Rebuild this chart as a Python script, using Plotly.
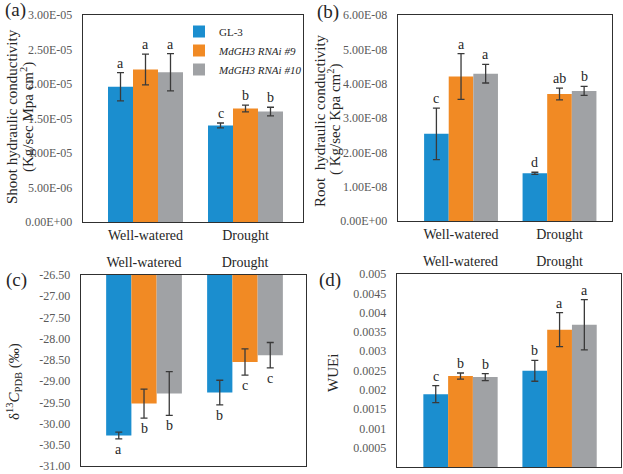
import plotly.graph_objects as go

# ---------------- data ----------------
categories = ["Well-watered", "Drought"]
series_names = ["GL-3", "<i>MdGH3 RNAi #9</i>", "<i>MdGH3 RNAi #10</i>"]
colors = ["#1B8ECF", "#F18A24", "#A0A2A5"]

# (a) shoot hydraulic conductivity
shoot_vals = [[1.96e-05, 1.40e-05], [2.21e-05, 1.645e-05], [2.17e-05, 1.60e-05]]
shoot_err = [[0.205e-05, 0.035e-05], [0.224e-05, 0.05e-05], [0.27e-05, 0.063e-05]]
shoot_letters = [["a", "c"], ["a", "b"], ["a", "b"]]
shoot_ticks = [0, 5e-06, 1e-05, 1.5e-05, 2e-05, 2.5e-05, 3e-05]
shoot_ticklabels = ["0.00E+00", "5.00E-06", "1.00E-05", "1.50E-05", "2.00E-05", "2.50E-05", "3.00E-05"]

# (b) root hydraulic conductivity
root_vals = [[2.54e-08, 1.39e-08], [4.21e-08, 3.70e-08], [4.29e-08, 3.79e-08]]
root_err = [[0.75e-08, 0.03e-08], [0.665e-08, 0.17e-08], [0.27e-08, 0.13e-08]]
root_letters = [["c", "d"], ["a", "ab"], ["a", "b"]]
root_ticks = [0, 1e-08, 2e-08, 3e-08, 4e-08, 5e-08, 6e-08]
root_ticklabels = ["0.00E+00", "1.00E-08", "2.00E-08", "3.00E-08", "4.00E-08", "5.00E-08", "6.00E-08"]

# (c) delta 13C
d13c_vals = [[-30.28, -29.27], [-29.53, -28.55], [-29.29, -28.39]]
d13c_err = [[0.08, 0.29], [0.34, 0.31], [0.515, 0.30]]
d13c_letters = [["a", "b"], ["b", "c"], ["b", "c"]]
d13c_ticks = [-31.0, -30.5, -30.0, -29.5, -29.0, -28.5, -28.0, -27.5, -27.0, -26.5]
d13c_ticklabels = ["-31.00", "-30.50", "-30.00", "-29.50", "-29.00", "-28.50", "-28.00", "-27.50", "-27.00", "-26.50"]

# (d) WUEi
wue_vals = [[0.001886, 0.002491], [0.002355, 0.003558], [0.002330, 0.003686]]
wue_err = [[0.00022, 0.00027], [0.00008, 0.00044], [0.00009, 0.00065]]
wue_letters = [["c", "b"], ["b", "a"], ["b", "a"]]
wue_ticks = [0, 0.0005, 0.001, 0.0015, 0.002, 0.0025, 0.003, 0.0035, 0.004, 0.0045, 0.005]
wue_ticklabels = ["0", "0.0005", "0.001", "0.0015", "0.002", "0.0025", "0.003", "0.0035", "0.004", "0.0045", "0.005"]

# ---------------- layout helpers ----------------
W, H = 623, 474
FONT = "Liberation Serif, Times New Roman, DejaVu Serif, serif"
TICKCOL = "#595959"
TXTCOL = "#262626"


def px_x(x):
    return x / W


def px_y(y):
    return 1 - y / H


panels = [
    ("a", shoot_vals, shoot_err, shoot_letters, shoot_ticks, shoot_ticklabels, [0, 3.0001e-05],
     (83, 303), (15, 222), [-0.625, 1.575], "bottom", False),
    ("b", root_vals, root_err, root_letters, root_ticks, root_ticklabels, [0, 6.0001e-08],
     (398, 612), (15, 221), [-0.64, 1.533], "bottom", False),
    ("c", d13c_vals, d13c_err, d13c_letters, d13c_ticks, d13c_ticklabels, [-31.0001, -26.4999],
     (81, 306), (275, 466), [-0.624, 1.604], "top", True),
    ("d", wue_vals, wue_err, wue_letters, wue_ticks, wue_ticklabels, [0, 0.0050001],
     (397, 621), (274, 467), [-0.641, 1.62], "top", False),
]

fig = go.Figure()
annotations = []
layout = dict(
    width=W, height=H,
    margin=dict(l=0, r=0, t=0, b=0, autoexpand=False),
    paper_bgcolor="white", plot_bgcolor="white",
    barmode="group", bargap=0.25, bargroupgap=0,
    font=dict(family=FONT, color=TXTCOL),
    showlegend=True,
)

for i, (name, vals, err, letters, ticks, tlabels, yrange, xd, yd, xr, xside, below) in enumerate(panels):
    k = "" if i == 0 else str(i + 1)
    xa, ya = "x" + k, "y" + k
    for s in range(3):
        fig.add_trace(go.Bar(
            x=categories, y=vals[s], name=series_names[s],
            marker=dict(color=colors[s], line=dict(width=0)),
            error_y=dict(type="data", array=err[s], visible=True,
                         color="#3a3a3a", thickness=1.3, width=3.5),
            xaxis=xa, yaxis=ya, offsetgroup=str(s),
            legendgroup=str(s), showlegend=(i == 0),
        ))
        for c in range(2):
            if below:
                yy = vals[s][c] - err[s][c]
                yanchor = "top"
                ysh = -1
            else:
                yy = vals[s][c] + err[s][c]
                yanchor = "bottom"
                ysh = 0
            annotations.append(dict(
                x=c + (s - 1) * 0.25, y=yy, xref=xa, yref=ya,
                text=letters[s][c], showarrow=False, yanchor=yanchor, yshift=ysh,
                font=dict(family=FONT, size=14, color=TXTCOL),
            ))
    axis_line = dict(showline=True, mirror=True, linecolor="#303030", linewidth=1.3)
    layout["xaxis" + k] = dict(
        domain=[px_x(xd[0]), px_x(xd[1])], anchor=ya, range=xr, side=xside,
        type="category", showgrid=False, zeroline=False, ticks="",
        tickfont=dict(family=FONT, size=14, color=TXTCOL),
        ticklabelstandoff=0 if xside == "bottom" else 1,
        automargin=False, fixedrange=True, **axis_line,
    )
    layout["yaxis" + k] = dict(
        domain=[px_y(yd[1]), px_y(yd[0])], anchor=xa, range=yrange,
        tickvals=ticks, ticktext=tlabels, showgrid=False, zeroline=False, ticks="",
        tickfont=dict(family=FONT, size=12, color=TICKCOL),
        ticklabelstandoff=7,
        automargin=False, fixedrange=True, **axis_line,
    )

for lab, x, y in [("(a)", 15, 10), ("(b)", 328, 12), ("(c)", 16, 280), ("(d)", 330, 280)]:
    annotations.append(dict(x=px_x(x), y=px_y(y), xref="paper", yref="paper",
                            text=lab, showarrow=False, xanchor="center", yanchor="middle",
                            font=dict(family=FONT, size=19, color=TXTCOL)))

ytitles = [
    ("Shoot hydraulic conductivity", 12, 117),
    ("(Kg/sec Mpa cm<sup>2</sup>)", 28, 117),
    ("Root  hydraulic conductivity", 320, 120),
    ("( Kg/sec Kpa cm<sup>2</sup>)", 334, 120),
    ("δ<sup>13</sup><i>C</i><sub>PDB</sub> (‰)", 14, 382),
    ("WUEi", 333, 373),
]
for t, x, y in ytitles:
    annotations.append(dict(x=px_x(x), y=px_y(y), xref="paper", yref="paper",
                            text=t, showarrow=False, textangle=-90,
                            xanchor="center", yanchor="middle",
                            font=dict(family=FONT, size=15, color=TXTCOL)))

layout["annotations"] = annotations
layout["legend"] = dict(
    x=px_x(179), y=px_y(17), xanchor="left", yanchor="top",
    bgcolor="rgba(0,0,0,0)", font=dict(family=FONT, size=11, color=TXTCOL),
    tracegroupgap=0, itemwidth=30, traceorder="normal",
)
fig.update_layout(**layout)
fig.write_html(
    "out.html",
    config={"displayModeBar": False, "staticPlot": True},
    post_script="document.body.style.margin='0';",
)
